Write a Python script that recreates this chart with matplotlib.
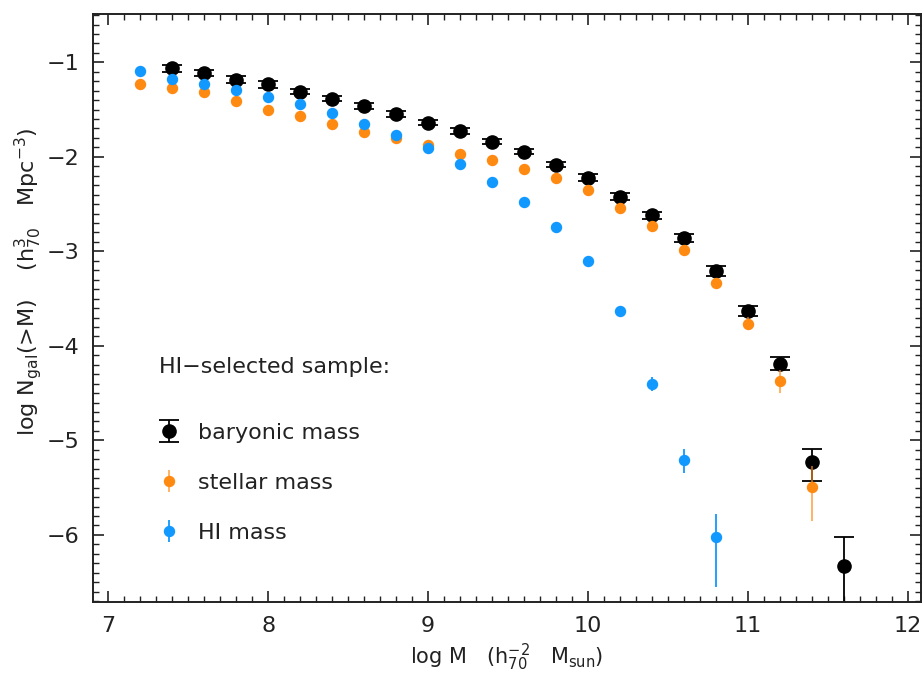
import numpy as np
import matplotlib.pyplot as plt
from matplotlib.ticker import MultipleLocator

plt.rcParams['font.family'] = ['DejaVu Sans']
plt.rcParams['mathtext.default'] = 'regular'

# cumulative mass functions (log N(>M)), steps of 0.2 dex
x_bary = [7.4, 7.6, 7.8, 8.0, 8.2, 8.4, 8.6, 8.8, 9.0, 9.2, 9.4, 9.6, 9.8,
          10.0, 10.2, 10.4, 10.6, 10.8, 11.0, 11.2, 11.4, 11.6]
y_bary = [-1.063, -1.113, -1.183, -1.233, -1.31, -1.384, -1.462, -1.546, -1.637,
          -1.728, -1.839, -1.944, -2.082, -2.219, -2.42, -2.62, -2.86, -3.209,
          -3.632, -4.19, -5.225, -6.324]
err_bary_lo = [0.04, 0.035, 0.035, 0.035, 0.03, 0.03, 0.03, 0.03, 0.03, 0.03, 0.03,
               0.03, 0.03, 0.035, 0.035, 0.04, 0.04, 0.05, 0.05, 0.07, 0.20, 1.0]
err_bary_hi = [0.04, 0.035, 0.035, 0.035, 0.03, 0.03, 0.03, 0.03, 0.03, 0.03, 0.03,
               0.03, 0.03, 0.035, 0.035, 0.04, 0.04, 0.05, 0.05, 0.07, 0.135, 0.30]

x_star = [7.2, 7.4, 7.6, 7.8, 8.0, 8.2, 8.4, 8.6, 8.8, 9.0, 9.2, 9.4, 9.6, 9.8,
          10.0, 10.2, 10.4, 10.6, 10.8, 11.0, 11.2, 11.4]
y_star = [-1.225, -1.27, -1.313, -1.405, -1.50, -1.571, -1.655, -1.74, -1.80,
          -1.875, -1.965, -2.036, -2.131, -2.223, -2.346, -2.54, -2.734, -2.99,
          -3.34, -3.766, -4.375, -5.496]
err_star_lo = [0.02] * 16 + [0.03, 0.03, 0.05, 0.07, 0.12, 0.36]
err_star_hi = [0.02] * 16 + [0.03, 0.03, 0.05, 0.07, 0.12, 0.22]

x_hi = [7.2, 7.4, 7.6, 7.8, 8.0, 8.2, 8.4, 8.6, 8.8, 9.0, 9.2, 9.4, 9.6, 9.8,
        10.0, 10.2, 10.4, 10.6, 10.8]
y_hi = [-1.088, -1.176, -1.225, -1.29, -1.367, -1.44, -1.539, -1.648, -1.772,
        -1.905, -2.073, -2.266, -2.48, -2.747, -3.107, -3.63, -4.404, -5.207, -6.02]
err_hi_lo = [0.02] * 15 + [0.04, 0.07, 0.14, 0.53]
err_hi_hi = [0.02] * 15 + [0.04, 0.07, 0.12, 0.245]

c_black = 'black'
c_orange = '#ff8a12'
c_blue = '#1199ff'
c_text = '#222222'

fig = plt.figure(figsize=(9.23, 6.73), dpi=100)
ax = fig.add_axes([0.1008, 0.1055, 0.897, 0.8735])

hb = ax.errorbar(x_bary, y_bary, yerr=[err_bary_lo, err_bary_hi], fmt='o',
                 color=c_black, ms=9.5, capsize=7, elinewidth=1.3, capthick=1.3,
                 zorder=2)
hs = ax.errorbar(x_star, y_star, yerr=[err_star_lo, err_star_hi], fmt='o',
                 color=c_orange, ms=7.2, elinewidth=1.3, zorder=3)
hs[2][0].set_alpha(0.7)
hh = ax.errorbar(x_hi, y_hi, yerr=[err_hi_lo, err_hi_hi], fmt='o',
                 color=c_blue, ms=7.2, elinewidth=1.3, zorder=4)

ax.set_xlim(6.906, 12.08)
ax.set_ylim(-6.71, -0.49)
ax.xaxis.set_major_locator(MultipleLocator(1))
ax.xaxis.set_minor_locator(MultipleLocator(0.1))
ax.yaxis.set_major_locator(MultipleLocator(1))
ax.yaxis.set_minor_locator(MultipleLocator(0.1))
ax.tick_params(which='both', direction='in', top=True, right=True,
               labelsize=16, color=c_text, labelcolor=c_text)
ax.tick_params(which='major', length=8, width=1.2, pad=10)
ax.tick_params(which='minor', length=4, width=1.0)
for sp in ax.spines.values():
    sp.set_linewidth(1.4)
    sp.set_color(c_text)

ax.set_xlabel(r'log M   (h$_{70}^{-2}$   M$_{sun}$)', fontsize=15, labelpad=4,
              color=c_text)
fig.text(28 / 923, 1 - 282 / 673,
         r'log N$_{gal}$(>M)    (h$_{70}^{3}$   Mpc$^{-3}$)',
         rotation=90, fontsize=16, ha='center', va='center', color=c_text)

ax.text(0.08, 0.40, 'HI\u2212selected sample:', transform=ax.transAxes,
        fontsize=16, va='center', ha='left', color=c_text)
leg = ax.legend([hb, hs, hh], ['baryonic mass', 'stellar mass', 'HI mass'],
                loc='upper left', bbox_to_anchor=(0.068, 0.32), frameon=False,
                fontsize=16, handlelength=1.0, handletextpad=0.8,
                labelspacing=1.35, borderaxespad=0)
for t in leg.get_texts():
    t.set_color(c_text)

fig.savefig('out.png', dpi=100)
